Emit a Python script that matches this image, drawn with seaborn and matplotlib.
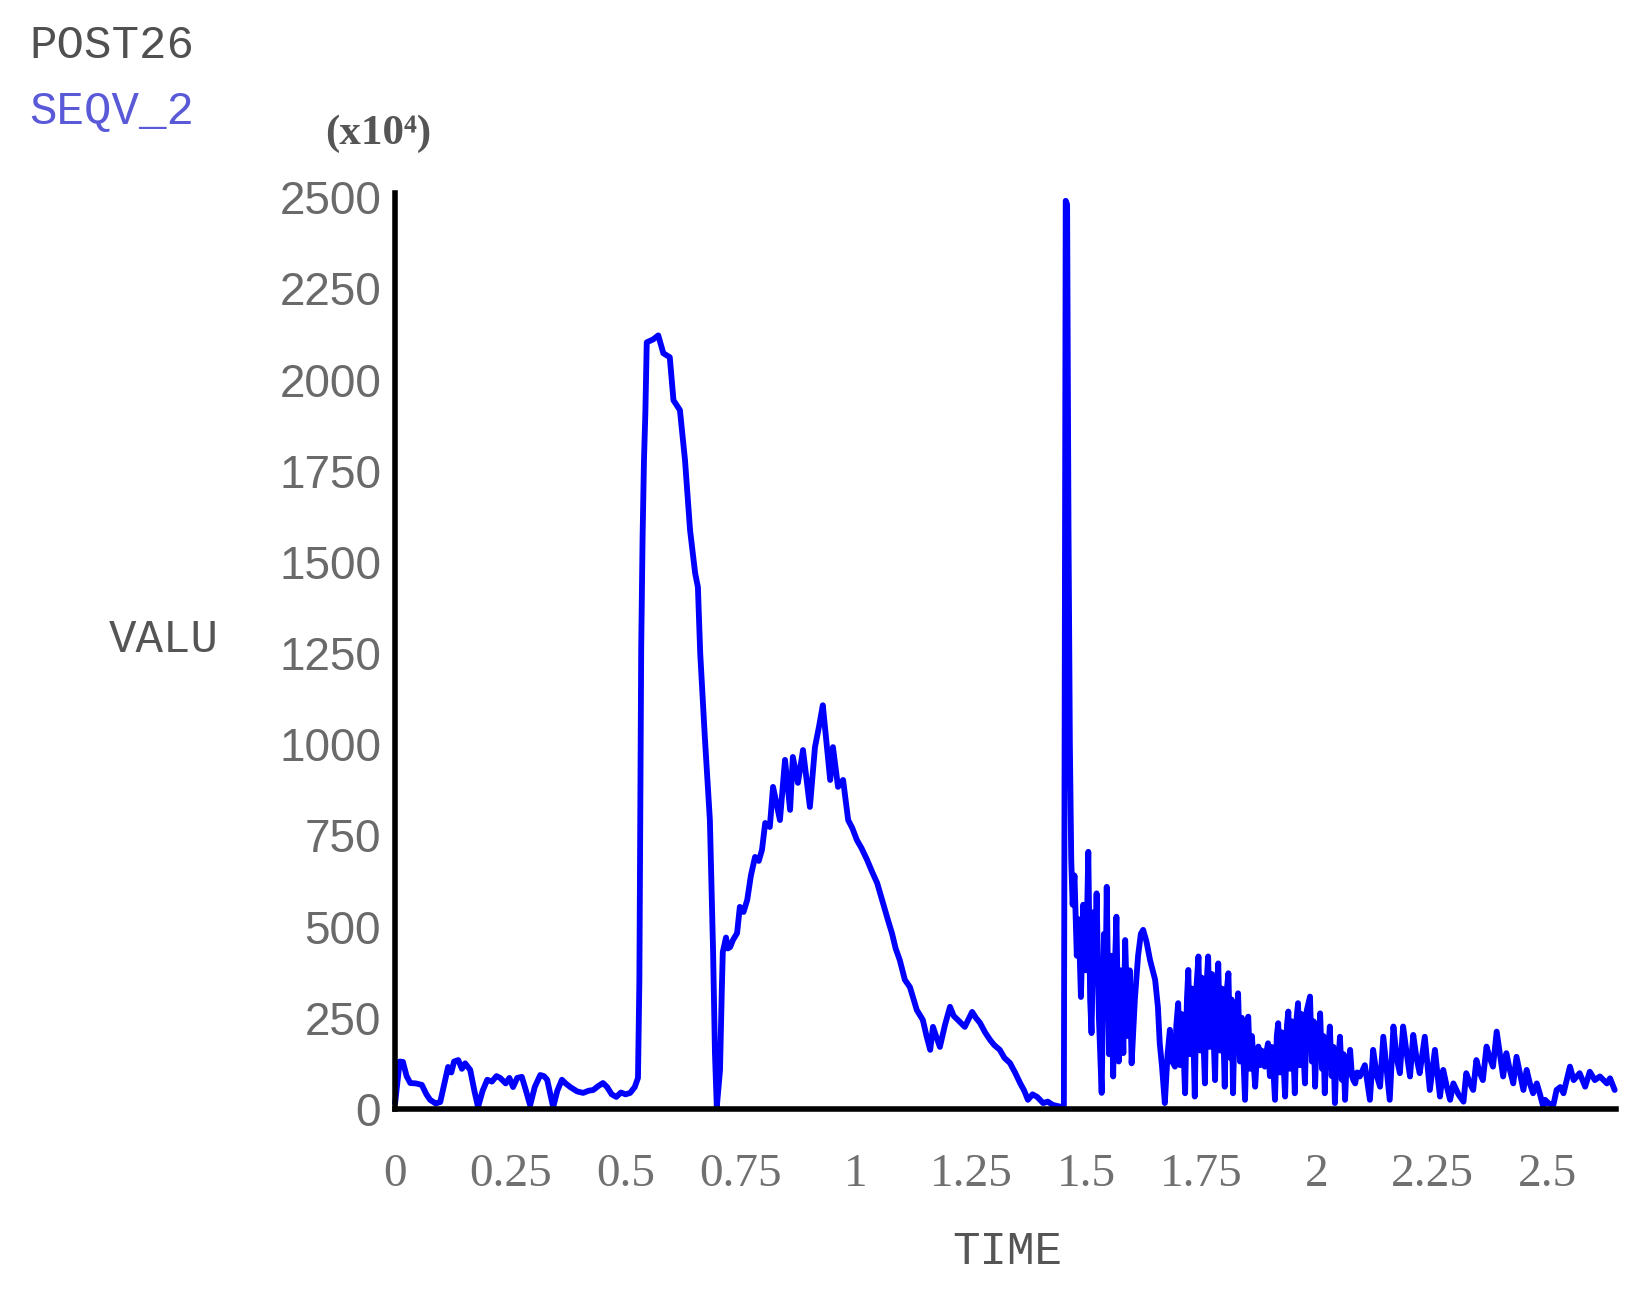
import numpy as np
import pandas as pd
import matplotlib
matplotlib.use("Agg")
import matplotlib.pyplot as plt
import seaborn as sns

# time / SEQV_2 values (values in units of x10^4)
t_start = [0.000, 0.004, 0.010, 0.017, 0.025, 0.033, 0.045, 0.058, 0.068, 0.076,
           0.088, 0.098, 0.107, 0.115, 0.122, 0.128, 0.137, 0.145, 0.152, 0.163,
           0.172, 0.180, 0.190, 0.200, 0.210, 0.220, 0.228, 0.240, 0.248, 0.256,
           0.265, 0.275, 0.284, 0.293, 0.303, 0.315, 0.323, 0.330, 0.337, 0.343,
           0.352, 0.362, 0.370, 0.380, 0.395, 0.408, 0.420, 0.430, 0.440, 0.451,
           0.460, 0.470, 0.480, 0.490, 0.500, 0.510, 0.520, 0.527]
v_start = [15, 60, 130, 129, 90, 71, 70, 66, 40, 25,
           15, 19, 70, 115, 100, 130, 134, 110, 125, 107,
           50, 5, 50, 80, 75, 90, 85, 70, 85, 60,
           85, 88, 50, 10, 60, 93, 90, 80, 40, 5,
           50, 80, 70, 60, 48, 44, 50, 52, 62, 71,
           60, 40, 33, 45, 40, 44, 60, 85]

# first peak and the broad hump
t_hump = [0.530, 0.532, 0.534, 0.537, 0.540, 0.543, 0.546, 0.560, 0.571, 0.582,
          0.596, 0.604, 0.618, 0.629, 0.640, 0.651, 0.657, 0.662, 0.672, 0.683,
          0.690, 0.694, 0.698, 0.705, 0.709, 0.711, 0.718, 0.722, 0.727, 0.733,
          0.742, 0.748, 0.756, 0.764, 0.772, 0.781, 0.789, 0.796, 0.803, 0.813,
          0.820, 0.835, 0.846, 0.857, 0.863, 0.874, 0.885, 0.900, 0.911, 0.920,
          0.928, 0.937, 0.944, 0.950, 0.961, 0.972, 0.983, 0.992, 1.002, 1.012,
          1.024, 1.035, 1.046, 1.055, 1.063, 1.070, 1.078, 1.086, 1.095, 1.106,
          1.117, 1.125, 1.132, 1.145, 1.153, 1.161, 1.167, 1.175, 1.182, 1.193,
          1.204, 1.212, 1.221, 1.236, 1.252, 1.260, 1.269, 1.280, 1.291, 1.300,
          1.312, 1.322, 1.334, 1.345, 1.356, 1.365, 1.373, 1.383, 1.393, 1.406,
          1.416, 1.427, 1.437, 1.447, 1.451]
v_hump = [350, 811, 1266, 1568, 1779, 1908, 2102, 2110, 2121, 2072,
          2061, 1943, 1916, 1779, 1587, 1469, 1431, 1250, 1020, 792,
          428, 153, 5, 107, 334, 430, 470, 440, 444, 463,
          482, 554, 540, 573, 640, 691, 680, 710, 784, 773,
          883, 792, 957, 820, 965, 894, 984, 828, 992, 1050,
          1107, 992, 902, 992, 883, 902, 792, 770, 737, 715,
          683, 650, 619, 580, 545, 515, 482, 440, 408, 354,
          334, 300, 271, 244, 200, 162, 225, 195, 170, 230,
          280, 255, 244, 225, 266, 250, 236, 210, 189, 175,
          162, 140, 126, 100, 71, 50, 25, 40, 33, 16,
          20, 11, 8, 5, 10]

# spike and the ringing after it
t_ring = [1.455, 1.458, 1.461, 1.464, 1.467, 1.470, 1.474, 1.479, 1.483, 1.488,
          1.493, 1.499, 1.504, 1.508, 1.511, 1.516, 1.519, 1.522, 1.527, 1.533,
          1.538, 1.541, 1.544, 1.549, 1.553, 1.558, 1.562, 1.565, 1.570, 1.575,
          1.580, 1.584, 1.590, 1.594, 1.598, 1.605, 1.612, 1.618, 1.623, 1.630,
          1.638, 1.649, 1.655, 1.659, 1.664, 1.670, 1.676, 1.681, 1.686, 1.692]
v_ring = [2490, 2480, 1600, 1000, 682, 560, 640, 420, 520, 307,
          560, 380, 705, 300, 208, 540, 420, 591, 250, 44,
          480, 300, 609, 150, 420, 89, 400, 527, 130, 380,
          153, 463, 200, 380, 125, 300, 420, 480, 491, 460,
          408, 354, 280, 180, 115, 16, 150, 217, 130, 116]

# dense oscillation groups
t_osc = [1.695, 1.699, 1.703, 1.707, 1.710, 1.714, 1.718, 1.721, 1.725, 1.729,
         1.732, 1.735, 1.739, 1.743, 1.747, 1.750, 1.753, 1.757, 1.761, 1.764,
         1.768, 1.772, 1.775, 1.779, 1.783, 1.786, 1.790, 1.794, 1.797, 1.800,
         1.804, 1.808, 1.812, 1.815, 1.818, 1.822, 1.825, 1.829, 1.833, 1.837,
         1.840, 1.844, 1.848, 1.851, 1.855, 1.859, 1.862, 1.866, 1.870, 1.873,
         1.877, 1.880, 1.884, 1.887, 1.891, 1.894, 1.898, 1.902, 1.905, 1.909,
         1.913, 1.916, 1.920, 1.924, 1.927, 1.931, 1.935, 1.938, 1.942, 1.946,
         1.949, 1.952, 1.956, 1.959, 1.963, 1.967, 1.970, 1.974, 1.978, 1.985,
         1.989, 1.993, 1.996, 2.000, 2.003, 2.007, 2.011, 2.014, 2.017, 2.021,
         2.024, 2.028, 2.032, 2.036, 2.039, 2.043, 2.046, 2.050, 2.054, 2.058,
         2.061, 2.065, 2.068, 2.072, 2.076, 2.079, 2.083, 2.087, 2.090, 2.093]
v_osc = [230, 290, 120, 260, 180, 43, 300, 381, 150, 330,
         200, 34, 340, 418, 160, 360, 220, 70, 350, 418,
         170, 370, 230, 79, 340, 399, 160, 330, 210, 61,
         320, 372, 140, 300, 43, 270, 200, 317, 130, 250,
         160, 25, 220, 253, 110, 200, 140, 61, 150, 171,
         120, 160, 150, 116, 160, 180, 90, 170, 120, 25,
         200, 235, 100, 210, 140, 34, 230, 267, 110, 240,
         160, 43, 250, 290, 120, 260, 180, 70, 270, 308,
         130, 240, 61, 220, 160, 262, 110, 200, 43, 190,
         150, 226, 90, 170, 16, 160, 120, 198, 80, 150,
         25, 140, 110, 162, 90, 79, 70, 100, 98, 89]

t_tail = [2.104, 2.115, 2.122, 2.130, 2.137, 2.144, 2.151, 2.158, 2.166, 2.173,
          2.180, 2.187, 2.195, 2.202, 2.209, 2.216, 2.223, 2.234, 2.240, 2.245,
          2.256, 2.262, 2.267, 2.274, 2.282, 2.289, 2.296, 2.307, 2.318, 2.324,
          2.332, 2.339, 2.346, 2.353, 2.360, 2.368, 2.375, 2.382, 2.390, 2.397,
          2.404, 2.411, 2.418, 2.426, 2.433, 2.440, 2.448, 2.455, 2.462, 2.469,
          2.477, 2.484, 2.491, 2.495, 2.503, 2.513, 2.520, 2.528, 2.535, 2.549,
          2.557, 2.570, 2.582, 2.592, 2.603, 2.614, 2.629, 2.636, 2.646]
v_tail = [120, 25, 162, 90, 61, 198, 110, 25, 226, 140,
          98, 226, 150, 89, 203, 140, 98, 198, 120, 52,
          162, 90, 34, 107, 60, 25, 70, 40, 20, 98,
          70, 52, 134, 100, 79, 171, 140, 116, 212, 150,
          89, 153, 110, 70, 143, 100, 52, 107, 70, 43,
          70, 40, 6, 25, 15, 11, 52, 60, 43, 116,
          79, 98, 61, 102, 79, 89, 70, 84, 52]

x_ticks = [0, 0.25, 0.5, 0.75, 1, 1.25, 1.5, 1.75, 2, 2.25, 2.5]
x_labels = ["0", "0.25", "0.5", "0.75", "1", "1.25", "1.5", "1.75", "2", "2.25", "2.5"]
y_ticks = [0, 250, 500, 750, 1000, 1250, 1500, 1750, 2000, 2250, 2500]

df = pd.DataFrame({
    "TIME": t_start + t_hump + t_ring + t_osc + t_tail,
    "SEQV_2": v_start + v_hump + v_ring + v_osc + v_tail,
})

sns.set_style("white")
plt.rcParams['font.family'] = ['Liberation Sans', 'DejaVu Sans']

fig = plt.figure(figsize=(16.4, 12.97), dpi=100)
ax = fig.add_axes([0.2409, 0.145, 0.7445, 0.703])

sns.lineplot(data=df, x="TIME", y="SEQV_2", ax=ax, color="#0000ff", linewidth=4.2,
             estimator=None, sort=False, clip_on=False)

ax.set_xlim(0, 2.649)
ax.set_ylim(0, 2500)
for s in ["top", "right"]:
    ax.spines[s].set_visible(False)
for s in ["left", "bottom"]:
    ax.spines[s].set_color("black")
    ax.spines[s].set_linewidth(4)
ax.spines["left"].set_bounds(0, 2510)

ax.set_yticks(y_ticks)
ax.set_yticklabels([str(v) for v in y_ticks], fontsize=33, color="#6a6a6a",
                   family=['Liberation Sans', 'DejaVu Sans'])
ax.set_xticks(x_ticks)
ax.set_xticklabels(x_labels, fontsize=34, color="#707070",
                   family=['Liberation Serif', 'DejaVu Serif'])
ax.tick_params(axis="y", length=0, pad=10)
ax.tick_params(axis="x", length=0, pad=32)
ax.set_xlabel("")
ax.set_ylabel("")

mono = ['Liberation Mono', 'DejaVu Sans Mono']
fig.text(0.0177, 0.9645, "POST26", family=mono, fontsize=33, color="#505050",
         ha="left", va="center")
fig.text(0.0177, 0.9136, "SEQV_2", family=mono, fontsize=33, color="#5a5ad8",
         ha="left", va="center")
fig.text(0.2305, 0.8967, "(x10⁴)", family=['Liberation Serif', 'DejaVu Serif'],
         fontsize=31, fontweight="bold", color="#555555", ha="center", va="center")
fig.text(0.1, 0.5066, "VALU", family=mono, fontsize=33, color="#555555",
         ha="center", va="center")
fig.text(0.614, 0.0347, "TIME", family=mono, fontsize=33, color="#555555",
         ha="center", va="center")

fig.savefig("out.png", dpi=100, facecolor="white")
